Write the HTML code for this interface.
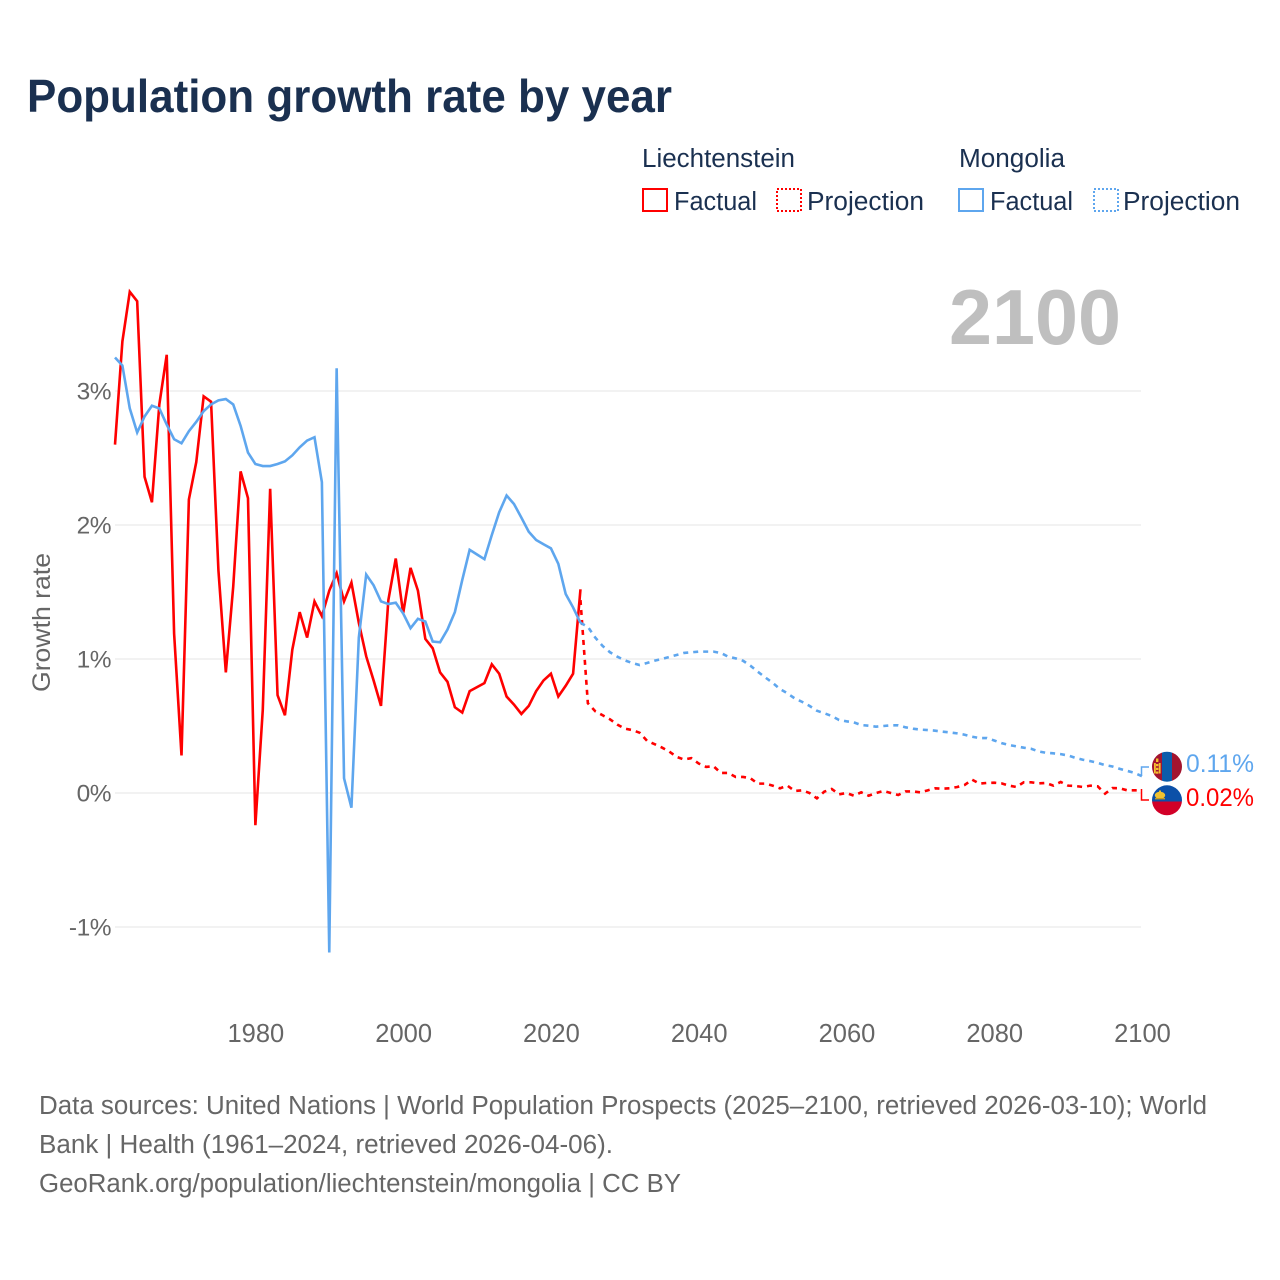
<!DOCTYPE html>
<html lang="en">
<head>
<meta charset="utf-8">
<title>Population growth rate by year</title>
<style>
html,body{margin:0;padding:0;background:#fff;}
svg{display:block;font-family:"Liberation Sans",sans-serif;}
</style>
</head>
<body>
<svg id="chart" width="1280" height="1280" viewBox="0 0 1280 1280" xmlns="http://www.w3.org/2000/svg">
  <defs>
    <clipPath id="flag-clip-mn"><circle cx="1167" cy="766.7" r="15"/></clipPath>
    <clipPath id="flag-clip-li"><circle cx="1167" cy="800.3" r="15"/></clipPath>
  </defs>
  <text x="27" y="112" font-size="46" font-weight="700" fill="#1a3050" textLength="645" lengthAdjust="spacingAndGlyphs">Population growth rate by year</text>

  <g font-size="25.5" fill="#1a3050">
    <text x="642" y="167" textLength="153" lengthAdjust="spacingAndGlyphs">Liechtenstein</text>
    <text x="959" y="167" textLength="106" lengthAdjust="spacingAndGlyphs">Mongolia</text>
    <rect x="643" y="189" width="24" height="22" fill="none" stroke="#ff0000" stroke-width="2"/>
    <text x="674" y="210" textLength="83" lengthAdjust="spacingAndGlyphs">Factual</text>
    <rect x="777" y="189" width="24" height="22" fill="none" stroke="#ff0000" stroke-width="2" stroke-dasharray="2 2"/>
    <text x="807" y="210" textLength="117" lengthAdjust="spacingAndGlyphs">Projection</text>
    <rect x="959" y="189" width="24" height="22" fill="none" stroke="#5ea6ee" stroke-width="2"/>
    <text x="990" y="210" textLength="83" lengthAdjust="spacingAndGlyphs">Factual</text>
    <rect x="1094" y="189" width="24" height="22" fill="none" stroke="#5ea6ee" stroke-width="2" stroke-dasharray="2 2"/>
    <text x="1123" y="210" textLength="117" lengthAdjust="spacingAndGlyphs">Projection</text>
  </g>

  <text x="949" y="344" font-size="78" font-weight="700" fill="#bfbfbf" textLength="172" lengthAdjust="spacingAndGlyphs">2100</text>

  <g id="grid"></g>
  <g id="yticks" font-size="24.5" fill="#666666" text-anchor="end"></g>
  <g id="xticks" font-size="25.5" fill="#666666" text-anchor="middle"></g>
  <text transform="translate(50 622.5) rotate(-90)" font-size="25" fill="#666666" text-anchor="middle" textLength="139" lengthAdjust="spacingAndGlyphs">Growth rate</text>

  <g id="series"></g>

  <path d="M1141.5 776V767H1149" fill="none" stroke="#5ea6ee" stroke-width="1.5"/>
  <path d="M1141.5 789V800H1149" fill="none" stroke="#ff0000" stroke-width="1.5"/>

  <g clip-path="url(#flag-clip-mn)">
    <rect x="1152" y="751" width="10" height="31" fill="#a3142f"/>
    <rect x="1162" y="751" width="10" height="31" fill="#0b5cab"/>
    <rect x="1172" y="751" width="10" height="31" fill="#a3142f"/>
    <rect x="1156" y="758.5" width="2.4" height="3.5" fill="#f5c030"/>
    <rect x="1154" y="763" width="1.8" height="10.5" fill="#f5c030"/>
    <rect x="1158.8" y="763" width="1.8" height="10.5" fill="#f5c030"/>
    <rect x="1156" y="764" width="2.4" height="2.2" fill="#f5c030"/>
    <rect x="1156" y="767.8" width="2.4" height="2.2" fill="#f5c030"/>
    <rect x="1156" y="771.5" width="2.4" height="2.2" fill="#f5c030"/>
  </g>
  <g clip-path="url(#flag-clip-li)">
    <rect x="1152" y="785" width="30" height="16.5" fill="#0c50a8"/>
    <rect x="1152" y="801.5" width="30" height="15" fill="#d20028"/>
    <ellipse cx="1160" cy="795.3" rx="5.2" ry="3.6" fill="#f2c230"/>
    <rect x="1159" y="790.5" width="2" height="2.5" fill="#f2c230"/>
    <rect x="1155" y="798" width="10" height="1.4" fill="#c79a20"/>
  </g>

  <text x="1186" y="772" font-size="25" fill="#5ea6ee" textLength="68" lengthAdjust="spacingAndGlyphs">0.11%</text>
  <text x="1186" y="806" font-size="25" fill="#ff0000" textLength="68" lengthAdjust="spacingAndGlyphs">0.02%</text>

  <g font-size="25.5" fill="#666666">
    <text x="39" y="1114" textLength="1168" lengthAdjust="spacingAndGlyphs">Data sources: United Nations | World Population Prospects (2025–2100, retrieved 2026-03-10); World</text>
    <text x="39" y="1153" textLength="574" lengthAdjust="spacingAndGlyphs">Bank | Health (1961–2024, retrieved 2026-04-06).</text>
    <text x="39" y="1192" textLength="642" lengthAdjust="spacingAndGlyphs">GeoRank.org/population/liechtenstein/mongolia | CC BY</text>
  </g>

<script>
const xTickYears = [1980, 2000, 2020, 2040, 2060, 2080, 2100];
const yTickValues = [3, 2, 1, 0, -1];
const yTickLabels = ["3%", "2%", "1%", "0%", "-1%"];
const factualStartYear = 1961;
const projectionStartYear = 2024;
const liechtensteinFactual = [2.60,3.37,3.74,3.67,2.36,2.17,2.90,3.27,1.19,0.28,2.19,2.47,2.96,2.92,1.66,0.90,1.54,2.40,2.20,-0.24,0.62,2.27,0.73,0.58,1.07,1.35,1.16,1.43,1.32,1.51,1.64,1.43,1.57,1.27,1.02,0.84,0.65,1.44,1.75,1.34,1.68,1.51,1.15,1.08,0.90,0.83,0.64,0.60,0.76,0.79,0.82,0.96,0.89,0.72,0.66,0.59,0.65,0.76,0.84,0.89,0.72,0.80,0.89,1.52];
const mongoliaFactual = [3.25,3.19,2.87,2.69,2.81,2.89,2.87,2.75,2.64,2.61,2.70,2.77,2.85,2.90,2.93,2.94,2.90,2.74,2.54,2.455,2.44,2.44,2.455,2.475,2.52,2.58,2.63,2.655,2.32,-1.19,3.17,0.11,-0.11,1.16,1.63,1.55,1.43,1.41,1.42,1.34,1.23,1.30,1.28,1.13,1.125,1.22,1.35,1.59,1.815,1.78,1.745,1.925,2.095,2.22,2.157,2.055,1.95,1.888,1.856,1.826,1.71,1.485,1.385,1.27];
const liechtensteinProjection = [1.44,0.67,0.61,0.58,0.55,0.51,0.48,0.47,0.45,0.39,0.365,0.34,0.31,0.27,0.25,0.26,0.22,0.195,0.20,0.15,0.15,0.12,0.12,0.11,0.07,0.07,0.055,0.035,0.055,0.015,0.02,0.0,-0.04,0.01,0.03,-0.01,0.0,-0.02,0.005,-0.02,0.0,0.015,0.0,-0.015,0.012,0.012,0.005,0.02,0.035,0.032,0.035,0.045,0.06,0.10,0.07,0.075,0.077,0.072,0.055,0.045,0.08,0.08,0.072,0.075,0.055,0.082,0.055,0.052,0.045,0.055,0.05,-0.005,0.037,0.035,0.02,0.02,0.02];
const mongoliaProjection = [1.27,1.24,1.16,1.097,1.05,1.017,0.99,0.97,0.955,0.97,0.987,1.0,1.015,1.03,1.045,1.05,1.055,1.055,1.055,1.045,1.017,1.005,0.987,0.95,0.905,0.863,0.823,0.776,0.744,0.706,0.68,0.65,0.614,0.595,0.575,0.545,0.535,0.527,0.507,0.502,0.495,0.50,0.505,0.505,0.49,0.48,0.473,0.47,0.465,0.458,0.452,0.445,0.435,0.42,0.41,0.41,0.392,0.372,0.358,0.348,0.338,0.33,0.31,0.30,0.296,0.29,0.28,0.262,0.248,0.238,0.225,0.208,0.198,0.18,0.165,0.15,0.125];

const NS = "http://www.w3.org/2000/svg";
function xScale(year) { return 115 + (year - 1961) * (1142 - 115) / (2100 - 1961); }
function yScale(value) { return 793 - value * 134; }
function linePath(startYear, values) {
  return values.map(function (v, i) {
    return (i ? "L" : "M") + xScale(startYear + i).toFixed(2) + " " + yScale(v).toFixed(2);
  }).join("");
}

const gridGroup = document.getElementById("grid");
const yTickGroup = document.getElementById("yticks");
yTickValues.forEach(function (v, i) {
  const gl = document.createElementNS(NS, "line");
  
  
  gl.setAttribute("x1", 115);
  gl.setAttribute("x2", 1141);
  gl.setAttribute("y1", yScale(v));
  gl.setAttribute("y2", yScale(v));
  gl.setAttribute("stroke", "#eeeeee");
  gl.setAttribute("stroke-width", "1.6");
  gridGroup.appendChild(gl);
  const t = document.createElementNS(NS, "text");
  
  
  t.setAttribute("x", 111);
  t.setAttribute("y", yScale(v) + 8.5);
  t.setAttribute("letter-spacing", "-0.5");
  t.textContent = yTickLabels[i];
  yTickGroup.appendChild(t);
});

const xTickGroup = document.getElementById("xticks");
xTickYears.forEach(function (yr) {
  const t = document.createElementNS(NS, "text");
  
  
  t.setAttribute("x", xScale(yr) + 0.5);
  t.setAttribute("y", 1042);
  t.textContent = String(yr);
  xTickGroup.appendChild(t);
});

const seriesGroup = document.getElementById("series");

const lineLiProj = document.createElementNS(NS, "path");


lineLiProj.setAttribute("d", linePath(projectionStartYear, liechtensteinProjection));
lineLiProj.setAttribute("fill", "none");
lineLiProj.setAttribute("stroke", "#ff0000");
lineLiProj.setAttribute("stroke-width", "2.6");
lineLiProj.setAttribute("stroke-dasharray", "5 5");
seriesGroup.appendChild(lineLiProj);

const lineLiFact = document.createElementNS(NS, "path");


lineLiFact.setAttribute("d", linePath(factualStartYear, liechtensteinFactual));
lineLiFact.setAttribute("fill", "none");
lineLiFact.setAttribute("stroke", "#ff0000");
lineLiFact.setAttribute("stroke-width", "2.6");
lineLiFact.setAttribute("stroke-linejoin", "miter");
seriesGroup.appendChild(lineLiFact);

const lineMnProj = document.createElementNS(NS, "path");


lineMnProj.setAttribute("d", linePath(projectionStartYear, mongoliaProjection));
lineMnProj.setAttribute("fill", "none");
lineMnProj.setAttribute("stroke", "#5ea6ee");
lineMnProj.setAttribute("stroke-width", "2.6");
lineMnProj.setAttribute("stroke-dasharray", "5 5");
seriesGroup.appendChild(lineMnProj);

const lineMnFact = document.createElementNS(NS, "path");


lineMnFact.setAttribute("d", linePath(factualStartYear, mongoliaFactual));
lineMnFact.setAttribute("fill", "none");
lineMnFact.setAttribute("stroke", "#5ea6ee");
lineMnFact.setAttribute("stroke-width", "2.6");
lineMnFact.setAttribute("stroke-linejoin", "miter");
seriesGroup.appendChild(lineMnFact);
</script>
</svg>
</body>
</html>
